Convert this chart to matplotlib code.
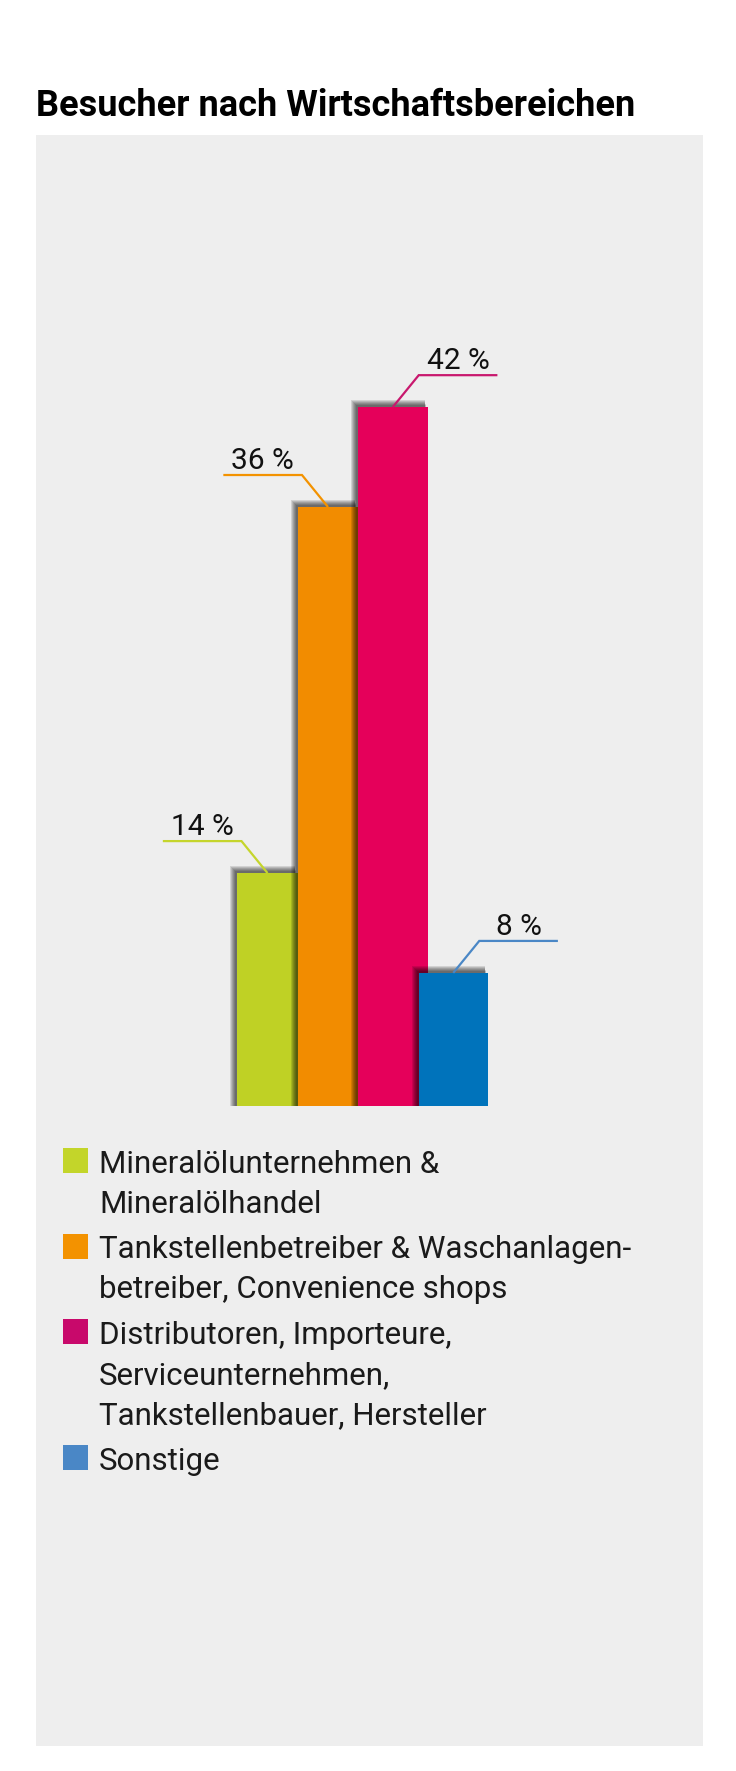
import matplotlib
matplotlib.use("Agg")
import matplotlib.pyplot as plt
from matplotlib.patches import Rectangle

# data
title = "Besucher nach Wirtschaftsbereichen"
categories = [
    "Mineralölunternehmen &\nMineralölhandel",
    "Tankstellenbetreiber & Waschanlagen-\nbetreiber, Convenience shops",
    "Distributoren, Importeure,\nServiceunternehmen,\nTankstellenbauer, Hersteller",
    "Sonstige",
]
values = [14, 36, 42, 8]
value_labels = ["14 %", "36 %", "42 %", "8 %"]

bar_colors = ["#bfd125", "#f28c00", "#e5005a", "#0073bb"]
line_colors = ["#c5d52c", "#f39200", "#c8186e", "#4a87c6"]
legend_colors = ["#c3d52a", "#f39200", "#c8096b", "#4a87c6"]

plt.rcParams["font.family"] = ["Roboto", "DejaVu Sans"]

W, H = 736, 1771
fig = plt.figure(figsize=(W / 100, H / 100), dpi=100)
fig.patch.set_facecolor("white")


def fx(px):
    return px / W


def fy(py):
    return 1 - py / H


# grey panel
fig.add_artist(Rectangle((fx(36), fy(1746)), (703 - 36) / W, (1746 - 135) / H,
                         transform=fig.transFigure, facecolor="#eeeeee",
                         edgecolor="none", zorder=0))

fig.text(fx(36), fy(116), title, fontsize=26, fontweight="bold",
         color="#000000", va="baseline", ha="left")

# bar axes: 0 % sits on the bar baseline
PX_X = 60.5   # pixels per x unit
PX_Y = 16.64  # pixels per percent
ax_left, ax_right, ax_top, ax_bottom = 36, 703, 135, 1106
ax = fig.add_axes([fx(ax_left), fy(ax_bottom), (ax_right - ax_left) / W,
                   (ax_bottom - ax_top) / H])
ax.axis("off")
x0 = -(267.5 - ax_left) / PX_X
ax.set_xlim(x0, x0 + (ax_right - ax_left) / PX_X)
ax.set_ylim(0, (ax_bottom - ax_top) / PX_Y)

xpos = [0, 1.0, 2.07, 3.07]
widths = [1.0, 0.99, 1.16, 1.14]
direction = [-1, -1, 1, 1]

for i, v in enumerate(values):
    x, w = xpos[i], widths[i]
    z = 2 + 2 * i
    # soft shadow towards upper left
    sx, sy = 2 / PX_X, 2 / PX_Y
    for j in range(6):
        ax.add_patch(Rectangle((x - w / 2 - sx - j / PX_X, 0),
                               w + 2 * j / PX_X * 0.4, v + sy + j / PX_Y,
                               facecolor="black", alpha=0.12,
                               edgecolor="none", zorder=z))
    ax.bar(x, v, width=w, color=bar_colors[i], zorder=z + 1, linewidth=0)

    d = direction[i]
    ye = v + 1.92
    xe = x + d * 0.43
    xend = xe + d * 1.3
    ax.plot([x, xe, xend], [v, ye, ye], color=line_colors[i], lw=1.6,
            solid_joinstyle="miter", solid_capstyle="butt", zorder=20)
    ax.annotate(value_labels[i], xy=((xe + xend) / 2, ye), xytext=(0, 4.5),
                textcoords="offset points", ha="center", va="baseline",
                fontsize=21.5, color="#111111", zorder=21)

# legend
baseline = 1173
for i, cat in enumerate(categories):
    fig.add_artist(Rectangle((fx(63.3), fy(baseline)), 25 / W, 25 / H,
                             transform=fig.transFigure,
                             facecolor=legend_colors[i], edgecolor="none"))
    for k, line in enumerate(cat.split("\n")):
        fig.text(fx(99), fy(baseline + 40 * k), line, fontsize=22.5,
                 color="#1a1a1a", va="baseline", ha="left")
    baseline += 40 * (len(cat.split("\n")) - 1) + 45.5

fig.savefig("out.png", dpi=100)
